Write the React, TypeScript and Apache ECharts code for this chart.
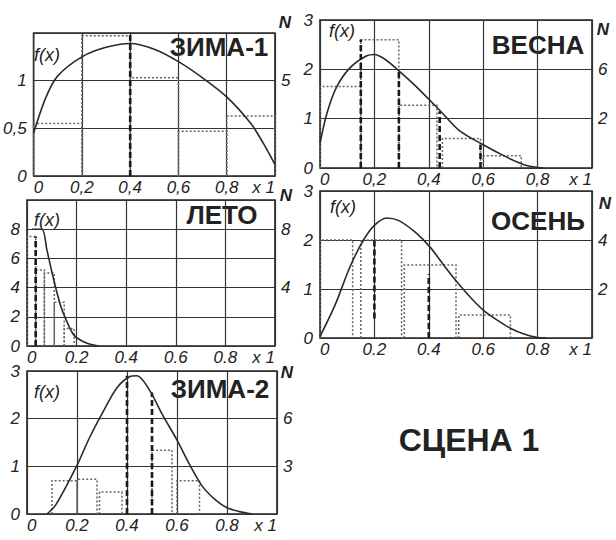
import React, { useEffect, useRef } from 'react';
import * as echarts from 'echarts';

// ---------- ЗИМА-1 ----------
const zima1CurveX = [0, 0.05, 0.1, 0.2, 0.3, 0.4, 0.5, 0.6, 0.7, 0.8, 0.9, 0.95, 1.0];
const zima1CurveF = [0.45, 0.82, 1.05, 1.25, 1.35, 1.39, 1.33, 1.2, 1.03, 0.83, 0.55, 0.35, 0.12];
const zima1BinStart = [0, 0.2, 0.4, 0.6, 0.8];
const zima1BinEnd = [0.2, 0.4, 0.6, 0.8, 1.0];
const zima1BinHeight = [0.55, 1.47, 1.03, 0.47, 0.63];
const zima1MarkX = [0.4];
const zima1MarkFrom = [0];
const zima1MarkTo = [1.5];

// ---------- ВЕСНА ----------
const vesnaCurveX = [0, 0.025, 0.06, 0.11, 0.17, 0.2, 0.24, 0.29, 0.35, 0.44, 0.51, 0.6, 0.69, 0.76, 0.82];
const vesnaCurveF = [0.5, 1.1, 1.63, 2.03, 2.27, 2.3, 2.2, 1.97, 1.67, 1.17, 0.77, 0.47, 0.21, 0.05, 0];
const vesnaBinStart = [0, 0.15, 0.29, 0.45, 0.6];
const vesnaBinEnd = [0.15, 0.29, 0.43, 0.59, 0.74];
const vesnaBinHeight = [1.65, 2.6, 1.27, 0.6, 0.25];
const vesnaMarkX = [0.15, 0.29, 0.44, 0.59];
const vesnaMarkFrom = [0, 0, 0, 0];
const vesnaMarkTo = [2.6, 1.97, 1.15, 0.47];

// ---------- ЛЕТО ----------
const letoCurveX = [0.02, 0.06, 0.08, 0.1, 0.133, 0.16, 0.19, 0.24, 0.29];
const letoCurveF = [8.0, 8.0, 6.6, 5.1, 2.9, 1.7, 0.73, 0.2, 0];
const letoBinStart = [0, 0.035, 0.07, 0.11, 0.15];
const letoBinEnd = [0.035, 0.07, 0.11, 0.15, 0.19];
const letoBinHeight = [7.5, 5.2, 5.0, 3.0, 1.2];
const letoMarkX = [0.035];
const letoMarkFrom = [0];
const letoMarkTo = [7.5];

// ---------- ОСЕНЬ ----------
const osenCurveX = [0, 0.056, 0.11, 0.16, 0.2, 0.245, 0.288, 0.35, 0.404, 0.46, 0.51, 0.556, 0.6, 0.65, 0.7, 0.75, 0.8, 0.83];
const osenCurveF = [0.03, 0.68, 1.45, 2.0, 2.3, 2.45, 2.4, 2.16, 1.86, 1.45, 1.1, 0.81, 0.57, 0.37, 0.2, 0.08, 0.01, 0];
const osenBinStart = [0, 0.15, 0.31, 0.51];
const osenBinEnd = [0.12, 0.3, 0.5, 0.7];
const osenBinHeight = [2.0, 2.0, 1.49, 0.47];
const osenMarkX = [0.2, 0.4];
const osenMarkFrom = [0.4, 0];
const osenMarkTo = [2.05, 1.3];

// ---------- ЗИМА-2 ----------
const zima2CurveX = [0.08, 0.115, 0.2, 0.25, 0.31, 0.36, 0.41, 0.44, 0.49, 0.54, 0.6, 0.65, 0.7, 0.755, 0.8, 0.85, 0.9];
const zima2CurveF = [0, 0.19, 1.02, 1.6, 2.2, 2.65, 2.88, 2.9, 2.6, 2.1, 1.55, 1.04, 0.59, 0.29, 0.13, 0.05, 0];
const zima2BinStart = [0.1, 0.2, 0.29, 0.5, 0.6];
const zima2BinEnd = [0.2, 0.28, 0.38, 0.58, 0.69];
const zima2BinHeight = [0.7, 0.73, 0.46, 1.34, 0.7];
const zima2MarkX = [0.4, 0.5];
const zima2MarkFrom = [0, 0];
const zima2MarkTo = [2.9, 2.55];

// ---------- titles / ticks ----------
const panelTitles = ['ЗИМА-1', 'ВЕСНА', 'ЛЕТО', 'ОСЕНЬ', 'ЗИМА-2'];
const sceneTitle = 'СЦЕНА 1';
const decimalSeparators = [',', ',', '.', '.', '.'];
const fMax = [1.5, 3, 10, 3, 3];
const fStep = [0.5, 1, 2, 1, 1];
const leftShown = [[0, 0.5, 1], [0, 1, 2, 3], [0, 2, 4, 6, 8], [0, 1, 2, 3], [0, 1, 2, 3]];
const nMin = [0, -2, 0, 0, 0];
const nMax = [7.5, 10, 10, 6, 9];
const nStep = [2.5, 2, 2, 2, 3];
const rightShown = [[5], [2, 6], [4, 8], [2, 4], [3, 6]];

const panelData = [
  { cx: zima1CurveX, cf: zima1CurveF, bs: zima1BinStart, be: zima1BinEnd, bh: zima1BinHeight, mx: zima1MarkX, mf: zima1MarkFrom, mt: zima1MarkTo },
  { cx: vesnaCurveX, cf: vesnaCurveF, bs: vesnaBinStart, be: vesnaBinEnd, bh: vesnaBinHeight, mx: vesnaMarkX, mf: vesnaMarkFrom, mt: vesnaMarkTo },
  { cx: letoCurveX, cf: letoCurveF, bs: letoBinStart, be: letoBinEnd, bh: letoBinHeight, mx: letoMarkX, mf: letoMarkFrom, mt: letoMarkTo },
  { cx: osenCurveX, cf: osenCurveF, bs: osenBinStart, be: osenBinEnd, bh: osenBinHeight, mx: osenMarkX, mf: osenMarkFrom, mt: osenMarkTo },
  { cx: zima2CurveX, cf: zima2CurveF, bs: zima2BinStart, be: zima2BinEnd, bh: zima2BinHeight, mx: zima2MarkX, mf: zima2MarkFrom, mt: zima2MarkTo },
];

// ---------- layout (pixels) ----------
const layouts = [
  { left: 28, top: 33, width: 247, height: 143 },
  { left: 320, top: 20, width: 272, height: 148 },
  { left: 27, top: 200, width: 248, height: 146 },
  { left: 320, top: 191, width: 272, height: 147 },
  { left: 27, top: 371, width: 250, height: 143 },
];
const fxPos = [[47, 55], [342, 31], [47, 220], [343, 207], [47, 392]];
const titlePos = [[219, 47], [538, 45], [222, 215], [538, 221], [220, 389]];
const nPos = [[285, 22], [603, 29], [286, 195], [605, 203], [287, 372]];

const INK = '#222';
const FONT = '"Liberation Sans", Arial, sans-serif';

const r2 = (v: number) => Math.round(v * 100) / 100;

function buildOption() {
  const grid: any[] = [];
  const xAxis: any[] = [];
  const yAxis: any[] = [];
  const series: any[] = [];
  const graphic: any[] = [];

  panelData.forEach((p, i) => {
    const L = layouts[i];
    const sep = decimalSeparators[i];
    grid.push({
      left: L.left, top: L.top, width: L.width, height: L.height,
      show: true, borderColor: INK, borderWidth: 1.6, backgroundColor: 'transparent',
    });
    xAxis.push({
      type: 'value', gridIndex: i, min: 0, max: 1, interval: 0.2,
      axisLine: { show: false }, axisTick: { show: false },
      splitLine: { show: true, lineStyle: { color: '#333', width: 1.2 } },
      axisLabel: {
        margin: 3, color: INK, fontSize: 17, fontStyle: 'italic', fontFamily: FONT,
        alignMinLabel: 'left', alignMaxLabel: 'right',
        formatter: (v: number) => {
          const t = r2(v);
          if (t === 0) return '0';
          if (t === 1) return 'x 1';
          return String(t).replace('.', sep);
        },
      },
    });
    yAxis.push({
      type: 'value', gridIndex: i, position: 'left', min: 0, max: fMax[i], interval: fStep[i],
      axisLine: { show: false }, axisTick: { show: false },
      splitLine: { show: true, lineStyle: { color: '#333', width: 1.2 } },
      axisLabel: {
        margin: 7, color: INK, fontSize: 17, fontStyle: 'italic', fontFamily: FONT,
        formatter: (v: number) => {
          const t = r2(v);
          return leftShown[i].includes(t) ? String(t).replace('.', sep) : '';
        },
      },
    });
    yAxis.push({
      type: 'value', gridIndex: i, position: 'right', min: nMin[i], max: nMax[i], interval: nStep[i],
      axisLine: { show: false }, axisTick: { show: false }, splitLine: { show: false },
      axisLabel: {
        margin: 6, color: INK, fontSize: 17, fontStyle: 'italic', fontFamily: FONT,
        formatter: (v: number) => (rightShown[i].includes(r2(v)) ? String(r2(v)) : ''),
      },
    });
    const yi = 2 * i;
    series.push({
      type: 'custom', xAxisIndex: i, yAxisIndex: yi, silent: true, z: 3,
      data: p.bs.map((s, k) => [s, p.be[k], p.bh[k]]),
      encode: { x: [0, 1], y: 2 },
      renderItem: (_params: any, api: any) => {
        const x0 = api.value(0), x1 = api.value(1), h = api.value(2);
        const pts = [api.coord([x0, 0]), api.coord([x0, h]), api.coord([x1, h]), api.coord([x1, 0])];
        return {
          type: 'polyline',
          shape: { points: pts },
          style: { fill: 'none', stroke: '#666', lineWidth: 1.5, lineDash: [2, 2] },
        };
      },
    });
    series.push({
      type: 'custom', xAxisIndex: i, yAxisIndex: yi, silent: true, z: 4,
      data: p.mx.map((x, k) => [x, p.mf[k], p.mt[k]]),
      encode: { x: 0, y: [1, 2] },
      renderItem: (_params: any, api: any) => {
        const a = api.coord([api.value(0), api.value(1)]);
        const b = api.coord([api.value(0), api.value(2)]);
        return {
          type: 'line',
          shape: { x1: a[0], y1: a[1], x2: b[0], y2: b[1] },
          style: { stroke: '#1a1a1a', lineWidth: 2.6, lineDash: [6, 3] },
        };
      },
    });
    series.push({
      type: 'line', xAxisIndex: i, yAxisIndex: yi, silent: true, z: 5,
      data: p.cx.map((x, k) => [x, p.cf[k]]),
      smooth: 0.3, symbol: 'none',
      lineStyle: { color: '#2a2a2a', width: 1.6 },
    });

    graphic.push({
      type: 'text', x: fxPos[i][0], y: fxPos[i][1],
      style: { text: 'f(x)', font: `italic 18px ${FONT}`, fill: INK, align: 'center', verticalAlign: 'middle', textAlign: 'center', textVerticalAlign: 'middle' },
    });
    graphic.push({
      type: 'text', x: titlePos[i][0], y: titlePos[i][1],
      style: { text: panelTitles[i], font: `bold 26px ${FONT}`, fill: INK, align: 'center', verticalAlign: 'middle', textAlign: 'center', textVerticalAlign: 'middle' },
    });
    graphic.push({
      type: 'text', x: nPos[i][0], y: nPos[i][1],
      style: { text: 'N', font: `italic bold 17px ${FONT}`, fill: INK, align: 'center', verticalAlign: 'middle', textAlign: 'center', textVerticalAlign: 'middle' },
    });
  });

  graphic.push({
    type: 'text', x: 469, y: 440,
    style: { text: sceneTitle, font: `bold 32px ${FONT}`, fill: INK, align: 'center', verticalAlign: 'middle', textAlign: 'center', textVerticalAlign: 'middle' },
  });

  return {
    animation: false,
    backgroundColor: '#ffffff',
    grid, xAxis, yAxis, series, graphic,
  };
}

export default function App() {
  const ref = useRef<HTMLDivElement>(null);
  useEffect(() => {
    if (!ref.current) return;
    const chart = echarts.init(ref.current, undefined, { renderer: 'svg' });
    chart.setOption(buildOption());
    return () => chart.dispose();
  }, []);
  return <div ref={ref} style={{ position: 'absolute', left: 0, top: 0, width: 616, height: 540 }} />;
}
